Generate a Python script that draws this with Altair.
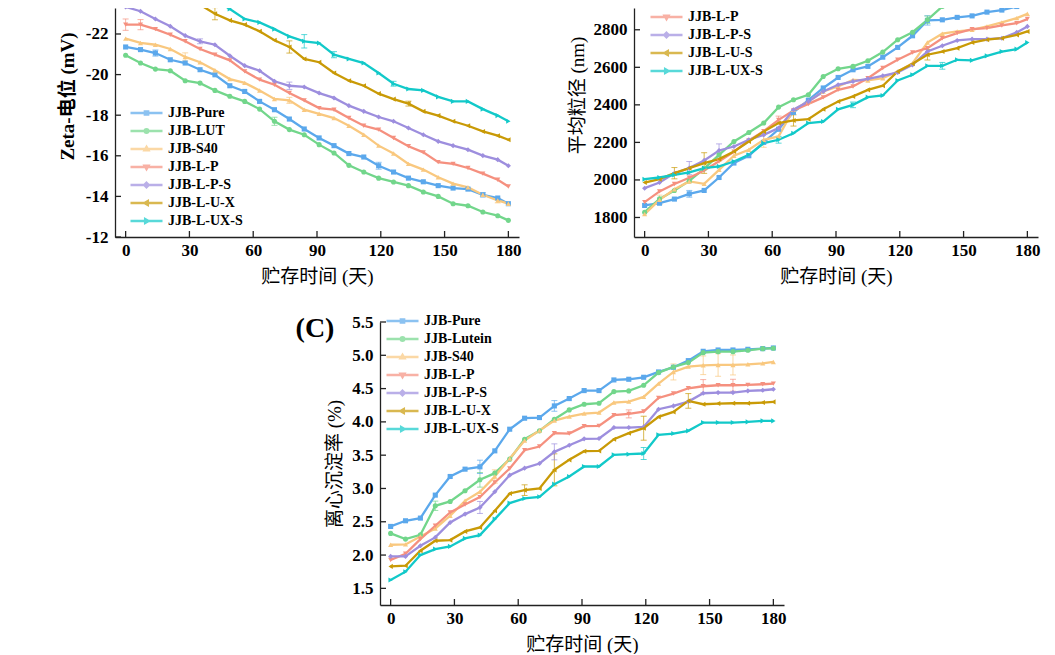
import altair as alt
import pandas as pd

DAYS = [0, 7, 14, 21, 28, 35, 42, 49, 56, 63, 70, 77, 84, 91, 98, 105, 112,
        119, 126, 133, 140, 147, 154, 161, 168, 175, 180]
X_TICKS = [0, 30, 60, 90, 120, 150, 180]

# ---------- Panel A : Zeta potential (mV) ----------
A_NAMES = ["JJB-Pure", "JJB-LUT", "JJB-S40", "JJB-L-P", "JJB-L-P-S", "JJB-L-U-X", "JJB-L-UX-S"]
A_PURE = [-21.36, -21.23, -21.06, -20.73, -20.57, -20.24, -19.99, -19.45, -19.17, -18.68, -18.27, -17.81, -17.32,
          -16.88, -16.50, -16.11, -15.94, -15.51, -15.20, -14.90, -14.72, -14.53, -14.41, -14.36, -14.08, -13.92, -13.64]
A_LUT = [-20.95, -20.57, -20.27, -20.19, -19.70, -19.58, -19.22, -18.93, -18.68, -18.30, -17.70, -17.29, -17.04,
         -16.55, -16.14, -15.53, -15.20, -14.90, -14.71, -14.53, -14.22, -14.00, -13.64, -13.54, -13.23, -13.05, -12.82]
A_S40 = [-21.77, -21.56, -21.47, -21.26, -20.87, -20.61, -20.21, -19.78, -19.59, -19.22, -18.80, -18.73, -18.27,
         -18.07, -17.86, -17.48, -17.04, -16.50, -16.11, -15.60, -15.32, -14.94, -14.63, -14.45, -14.08, -13.80, -13.64]
A_LP = [-22.46, -22.46, -22.24, -21.96, -21.64, -21.26, -20.98, -20.70, -20.16, -19.75, -19.50, -19.09, -18.73,
        -18.35, -18.27, -17.86, -17.48, -17.29, -16.88, -16.47, -16.17, -15.69, -15.60, -15.40, -15.12, -14.82, -14.49]
A_LPS = [-23.33, -23.12, -22.74, -22.38, -21.92, -21.64, -21.47, -20.93, -20.44, -20.19, -19.67, -19.45, -19.39,
         -19.09, -18.85, -18.47, -18.19, -17.91, -17.70, -17.37, -17.04, -16.71, -16.50, -16.30, -16.01, -15.81, -15.51]
A_LUX = [-25.30, -24.95, -24.60, -24.20, -23.78, -23.44, -23.00, -22.67, -22.46, -22.13, -21.69, -21.36, -20.77,
         -20.61, -20.08, -19.70, -19.45, -19.06, -18.79, -18.57, -18.19, -17.98, -17.70, -17.48, -17.20, -16.99, -16.79]
A_LUXS = [-26.00, -25.60, -25.25, -24.90, -24.55, -24.15, -23.70, -23.23, -22.74, -22.57, -22.24, -21.88, -21.64,
          -21.55, -20.98, -20.77, -20.57, -20.08, -19.55, -19.29, -19.22, -18.90, -18.68, -18.68, -18.30, -17.98, -17.70]
A_TICKS = [-12, -14, -16, -18, -20, -22]
# visible error bars (series, day, half-width)
A_ERR_SERIES = ["JJB-L-P", "JJB-L-P", "JJB-Pure", "JJB-S40", "JJB-L-P-S", "JJB-L-U-X", "JJB-L-U-X", "JJB-L-UX-S",
                "JJB-LUT", "JJB-L-P-S", "JJB-S40", "JJB-Pure", "JJB-L-UX-S", "JJB-L-UX-S", "JJB-L-U-X", "JJB-S40",
                "JJB-Pure"]
A_ERR_DAYS = [0, 7, 14, 28, 35, 42, 77, 84, 70, 77, 77, 119, 98, 126, 133, 175, 168]
A_ERR_SIZES = [0.28, 0.25, 0.15, 0.2, 0.12, 0.3, 0.3, 0.33, 0.2, 0.18, 0.15, 0.17, 0.15, 0.12, 0.12, 0.12, 0.1]

# ---------- Panel B : mean particle size (nm) ----------
B_NAMES = ["JJB-Pure", "JJB-LUT", "JJB-S40", "JJB-L-P", "JJB-L-P-S", "JJB-L-U-S", "JJB-L-UX-S"]
B_LEGEND = ["JJB-L-P", "JJB-L-P-S", "JJB-L-U-S", "JJB-L-UX-S"]
B_PURE = [1864, 1876, 1898, 1926, 1944, 2013, 2090, 2129, 2200, 2270, 2360, 2425, 2490, 2546,
          2587, 2605, 2654, 2706, 2768, 2850, 2853, 2866, 2874, 2894, 2905, 2924, 2938]
B_LUT = [1828, 1899, 1944, 1995, 2060, 2134, 2205, 2253, 2303, 2388, 2427, 2454, 2551, 2592,
         2605, 2635, 2681, 2747, 2787, 2853, 2924, 3000, 3040, 3080, 3110, 3140, 3165]
B_S40 = [1818, 1894, 1950, 1992, 1979, 2054, 2129, 2161, 2214, 2232, 2374, 2418, 2471, 2498,
         2533, 2530, 2542, 2578, 2622, 2732, 2779, 2791, 2800, 2818, 2839, 2862, 2885]
B_LP = [1882, 1939, 1978, 2012, 2050, 2100, 2150, 2210, 2260, 2320, 2370, 2405, 2440, 2480,
        2498, 2542, 2596, 2640, 2679, 2702, 2755, 2782, 2803, 2809, 2823, 2835, 2857]
B_LPS = [1956, 1986, 2036, 2063, 2104, 2157, 2178, 2214, 2240, 2276, 2374, 2418, 2471, 2507,
         2525, 2539, 2555, 2573, 2613, 2684, 2715, 2743, 2750, 2750, 2755, 2786, 2818]
B_LUS = [1986, 2004, 2036, 2063, 2090, 2111, 2152, 2205, 2258, 2303, 2317, 2324, 2377, 2418,
         2445, 2480, 2502, 2578, 2619, 2667, 2684, 2702, 2732, 2747, 2755, 2773, 2791]
B_LUXS = [2004, 2013, 2027, 2040, 2063, 2072, 2098, 2134, 2196, 2214, 2249, 2303, 2311, 2376,
          2400, 2441, 2450, 2530, 2560, 2608, 2608, 2640, 2637, 2661, 2684, 2697, 2732]
B_TICKS = [1800, 2000, 2200, 2400, 2600, 2800]
B_ERR_SERIES = ["JJB-L-U-S", "JJB-L-U-S", "JJB-L-P-S", "JJB-L-P-S", "JJB-S40", "JJB-L-P", "JJB-L-U-S",
                "JJB-L-UX-S", "JJB-L-UX-S", "JJB-L-U-S", "JJB-Pure", "JJB-LUT", "JJB-L-UX-S", "JJB-S40",
                "JJB-Pure"]
B_ERR_DAYS = [14, 28, 21, 35, 56, 63, 70, 63, 140, 133, 133, 133, 98, 7, 21]
B_ERR_SIZES = [30, 55, 35, 35, 40, 20, 30, 18, 18, 28, 25, 20, 15, 25, 18]

# ---------- Panel C : centrifugal sedimentation rate (%) ----------
C_NAMES = ["JJB-Pure", "JJB-Lutein", "JJB-S40", "JJB-L-P", "JJB-L-P-S", "JJB-L-U-X", "JJB-L-UX-S"]
C_PURE = [2.43, 2.515, 2.555, 2.90, 3.18, 3.29, 3.325, 3.565, 3.89, 4.055, 4.065, 4.24, 4.35, 4.47,
          4.47, 4.63, 4.64, 4.67, 4.75, 4.82, 4.92, 5.06, 5.08, 5.08, 5.09, 5.10, 5.11]
C_LUT = [2.325, 2.24, 2.305, 2.74, 2.805, 2.965, 3.13, 3.23, 3.44, 3.74, 3.865, 4.04, 4.18, 4.265,
         4.28, 4.455, 4.465, 4.55, 4.74, 4.825, 4.89, 5.04, 5.055, 5.055, 5.075, 5.10, 5.105]
C_S40 = [2.155, 2.16, 2.28, 2.40, 2.59, 2.815, 2.95, 3.18, 3.45, 3.72, 3.87, 4.02, 4.08, 4.125,
         4.14, 4.29, 4.305, 4.375, 4.575, 4.75, 4.83, 4.85, 4.855, 4.855, 4.865, 4.88, 4.90]
C_LP = [1.925, 2.02, 2.24, 2.44, 2.64, 2.76, 2.87, 3.09, 3.30, 3.575, 3.63, 3.83, 3.825, 3.935,
        3.94, 4.10, 4.12, 4.155, 4.36, 4.425, 4.505, 4.535, 4.55, 4.55, 4.555, 4.565, 4.575]
C_LPS = [1.98, 1.98, 2.14, 2.265, 2.49, 2.615, 2.715, 2.95, 3.20, 3.305, 3.375, 3.55, 3.65, 3.745,
         3.75, 3.915, 3.915, 3.925, 4.19, 4.24, 4.305, 4.43, 4.44, 4.44, 4.465, 4.475, 4.49]
C_LUX = [1.83, 1.84, 2.065, 2.215, 2.225, 2.355, 2.415, 2.665, 2.925, 2.975, 3.00, 3.28, 3.43, 3.56,
         3.565, 3.74, 3.83, 3.905, 4.075, 4.15, 4.315, 4.265, 4.275, 4.28, 4.28, 4.29, 4.30]
C_LUXS = [1.625, 1.75, 2.00, 2.09, 2.13, 2.25, 2.30, 2.54, 2.78, 2.85, 2.875, 3.065, 3.18, 3.33,
          3.33, 3.505, 3.515, 3.525, 3.805, 3.825, 3.865, 3.99, 3.99, 3.99, 4.00, 4.015, 4.015]
C_TICKS = [1.5, 2.0, 2.5, 3.0, 3.5, 4.0, 4.5, 5.0, 5.5]
C_ERR_SERIES = ["JJB-Pure", "JJB-Pure", "JJB-Lutein", "JJB-Lutein", "JJB-S40", "JJB-S40", "JJB-S40", "JJB-S40",
                "JJB-S40", "JJB-L-U-X", "JJB-L-U-X", "JJB-L-U-X", "JJB-L-UX-S", "JJB-L-P", "JJB-L-P",
                "JJB-L-P-S", "JJB-L-P-S", "JJB-L-P", "JJB-L-U-X"]
C_ERR_DAYS = [42, 77, 21, 42, 49, 133, 147, 154, 161, 77, 119, 140, 119, 147, 161, 77, 42, 112, 63]
C_ERR_SIZES = [0.1, 0.08, 0.07, 0.11, 0.1, 0.12, 0.14, 0.17, 0.15, 0.24, 0.18, 0.11, 0.09, 0.1, 0.09,
               0.12, 0.09, 0.06, 0.08]

# ---------- styling ----------
COLORS = ["#5ba8ec", "#72d68b", "#f9c87f", "#f5907f", "#9d8ede", "#c99a06", "#12c9c9"]
SHAPES = ["square", "circle", "triangle-up", "triangle-down", "diamond", "triangle-left", "triangle-right"]
LEGEND_MARKS = [
    "M-1,0H1M-0.1,-0.1H0.1V0.1H-0.1Z",
    "M-1,0H1M-0.11,0A0.11,0.11,0,1,1,0.11,0A0.11,0.11,0,1,1,-0.11,0Z",
    "M-1,0H1M0,-0.13L0.12,0.08H-0.12Z",
    "M-1,0H1M0,0.13L0.12,-0.08H-0.12Z",
    "M-1,0H1M0,-0.14L0.14,0L0,0.14L-0.14,0Z",
    "M-1,0H1M-0.13,0L0.08,-0.12V0.12Z",
    "M-1,0H1M0.13,0L-0.08,-0.12V0.12Z",
]
SERIF = "Liberation Serif"
TITLE_FONT = "Liberation Serif, Noto Sans CJK SC"
AX = "#222222"
PLOT_W = 404


def lookup_expr(keys, vals):
    return "{" + ",".join("'%s':'%s'" % (k, v) for k, v in zip(keys, vals)) + "}[datum.value]"


def axis_base(**kw):
    base = dict(labelFont=SERIF, labelFontSize=17, labelFontWeight="bold", labelColor="black",
                titleFont=TITLE_FONT, titleFontSize=19, titleColor="black",
                domainColor=AX, domainWidth=1.3, ticks=False, tickSize=0, grid=False)
    base.update(kw)
    return alt.Axis(**base)


def panel(names, series, ydom, yticks, ytitle, ytitle_weight, height, lx, ly,
          err_series, err_days, err_sizes,
          lvalues=None, ylabel_expr=None, yfmt=None, ytitle_y=None, ytitle_pad=8):
    rows = []
    for n, vals in zip(names, series):
        for d, v in zip(DAYS, vals):
            rows.append({"day": d, "value": v, "series": n})
    df = pd.DataFrame(rows)

    smap = dict(zip(names, series))
    cmap = dict(zip(names, COLORS))
    erows = []
    for s, d, e in zip(err_series, err_days, err_sizes):
        v = smap[s][DAYS.index(d)]
        erows.append({"day": d, "lo": v - e, "hi": v + e, "col": cmap[s]})
    edf = pd.DataFrame(erows)

    xaxis = axis_base(values=X_TICKS, title="贮存时间 (天)", titleFontWeight="normal",
                      labelPadding=5, titlePadding=9)
    ykw = dict(values=yticks, title=ytitle, titleFontWeight=ytitle_weight,
               labelPadding=7, titlePadding=ytitle_pad)
    if ylabel_expr:
        ykw["labelExpr"] = ylabel_expr
    if yfmt:
        ykw["format"] = yfmt
    if ytitle_y is not None:
        ykw["titleY"] = ytitle_y
    yaxis = axis_base(**ykw)

    xscale = alt.Scale(domain=[-5, 185], nice=False, zero=False)
    yscale = alt.Scale(domain=ydom, nice=False, zero=False)
    x = alt.X("day:Q", scale=xscale, axis=xaxis)
    y = alt.Y("value:Q", scale=yscale, axis=yaxis)
    cscale = alt.Scale(domain=names, range=COLORS)

    lkw = dict(title=None, orient="none", legendX=lx, legendY=ly,
               symbolType={"expr": lookup_expr(names, LEGEND_MARKS)},
               symbolFillColor={"expr": lookup_expr(names, COLORS)},
               symbolSize=1024, symbolStrokeWidth=2.5,
               clipHeight=14, rowPadding=4, padding=0,
               labelFont=SERIF, labelFontSize=14, labelFontWeight="bold", labelColor="black",
               labelOffset=4)
    if lvalues:
        lkw["values"] = lvalues
    legend = alt.Legend(**lkw)

    # error bars (drawn first, underneath)
    eb = alt.Chart(edf)
    layers = [
        eb.mark_rule(clip=True, strokeWidth=1, opacity=0.7).encode(
            x=x, y=alt.Y("lo:Q", scale=yscale, axis=yaxis), y2="hi:Q",
            color=alt.Color("col:N", scale=None)),
        eb.mark_tick(clip=True, orient="horizontal", size=6, thickness=1, opacity=0.7).encode(
            x=x, y=alt.Y("lo:Q", scale=yscale, axis=yaxis), color=alt.Color("col:N", scale=None)),
        eb.mark_tick(clip=True, orient="horizontal", size=6, thickness=1, opacity=0.7).encode(
            x=x, y=alt.Y("hi:Q", scale=yscale, axis=yaxis), color=alt.Color("col:N", scale=None)),
    ]
    base = alt.Chart(df)
    layers.append(base.mark_line(clip=True, strokeWidth=2.3).encode(
        x=x, y=y, color=alt.Color("series:N", scale=cscale, legend=legend)))
    for n, c, s in zip(names, COLORS, SHAPES):
        layers.append(base.transform_filter(alt.datum.series == n).mark_point(
            clip=True, filled=True, size=26, opacity=1, shape=s, color=c).encode(x=x, y=y))
    # inward tick marks at the axis tick values
    layers.append(alt.Chart(pd.DataFrame({"day": X_TICKS})).mark_rule(color=AX, strokeWidth=1.3).encode(
        x=alt.X("day:Q", scale=xscale, axis=xaxis), y=alt.value(height), y2=alt.value(height - 6)))
    layers.append(alt.Chart(pd.DataFrame({"value": yticks})).mark_rule(color=AX, strokeWidth=1.3).encode(
        y=alt.Y("value:Q", scale=yscale, axis=yaxis), x=alt.value(0), x2=alt.value(6)))
    return alt.layer(*layers).properties(width=PLOT_W, height=height)


chart_a = panel(A_NAMES, [A_PURE, A_LUT, A_S40, A_LP, A_LPS, A_LUX, A_LUXS],
                [-12, -23.28], A_TICKS, "Zeta-电位 (mV)", "bold", 229, 14, 98,
                A_ERR_SERIES, A_ERR_DAYS, A_ERR_SIZES,
                ylabel_expr="'-' + abs(datum.value)", ytitle_y=88, ytitle_pad=8)
chart_b = panel(B_NAMES, [B_PURE, B_LUT, B_S40, B_LP, B_LPS, B_LUS, B_LUXS],
                [1696, 2916], B_TICKS, "平均粒径 (nm)", "normal", 229, 15, 2,
                B_ERR_SERIES, B_ERR_DAYS, B_ERR_SIZES,
                lvalues=B_LEGEND, yfmt="d", ytitle_y=87, ytitle_pad=6)
chart_c_main = panel(C_NAMES, [C_PURE, C_LUT, C_S40, C_LP, C_LPS, C_LUX, C_LUXS],
                     [1.25, 5.5], C_TICKS, "离心沉淀率 (%)", "normal", 283, 5, -8,
                     C_ERR_SERIES, C_ERR_DAYS, C_ERR_SIZES,
                     yfmt=".1f", ytitle_pad=7)

label_c = alt.Chart(pd.DataFrame({"t": ["(C)"]})).mark_text(
    font=SERIF, fontSize=28, fontWeight="bold", align="center", baseline="middle", color="black"
).encode(text="t:N", x=alt.value(-65), y=alt.value(7))
chart_c = alt.layer(chart_c_main, label_c).properties(width=PLOT_W, height=283)

spacer = alt.Chart(pd.DataFrame({"a": [0]})).mark_point(opacity=0).encode(
    x=alt.value(0), y=alt.value(0)).properties(width=265, height=10)

row1 = alt.hconcat(chart_a, chart_b, spacing=115, bounds="flush").resolve_scale(
    color="independent").resolve_legend(color="independent")
row2 = alt.hconcat(spacer, chart_c, spacing=0, bounds="flush").resolve_scale(
    color="independent").resolve_legend(color="independent")

chart = alt.vconcat(row1, row2, spacing=27).resolve_scale(
    color="independent").resolve_legend(color="independent").properties(
    padding={"left": 50, "top": 0, "right": 5, "bottom": 0},
    background="white").configure_view(stroke=None)

chart.save("out.html", embed_options={"renderer": "svg", "actions": False})
